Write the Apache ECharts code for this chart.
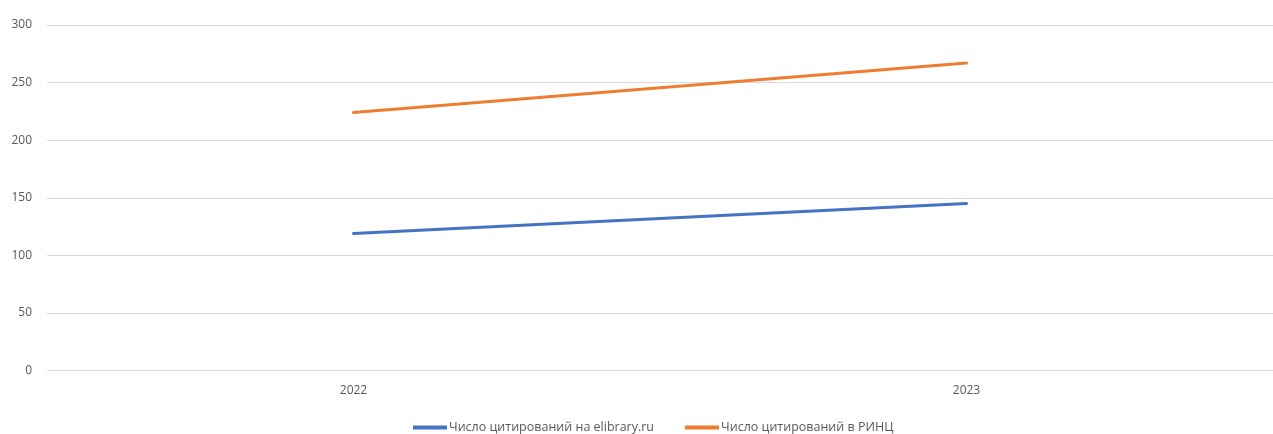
<!DOCTYPE html>
<html>
<head>
<meta charset="utf-8">
<script src="https://cdn.jsdelivr.net/npm/echarts@6/dist/echarts.min.js"></script>
<style>html,body{margin:0;padding:0;background:#fff;}#c{width:1273px;height:434px;}</style>
</head>
<body>
<div id="c"></div>
<script>
const categories = ['2022', '2023'];
const elibrary = [119, 145];
const rinc = [224, 267];
const seriesNames = ['Число цитирований на elibrary.ru', 'Число цитирований в РИНЦ'];
const yTicks = { min: 0, max: 300, interval: 50 };

const chart = echarts.init(document.getElementById('c'));
const font = '"Open Sans", "Noto Sans", sans-serif';
chart.setOption({
  animation: false,
  grid: { left: 47, top: 25, right: 0, bottom: 63.5, containLabel: false },
  xAxis: {
    type: 'category', data: categories, boundaryGap: true,
    axisLine: { show: true, lineStyle: { color: '#d9d9d9', width: 1 } },
    axisTick: { show: false },
    axisLabel: { color: '#595959', fontFamily: font, fontSize: 12, margin: 14 }
  },
  yAxis: {
    type: 'value', min: yTicks.min, max: yTicks.max, interval: yTicks.interval,
    axisLine: { show: false }, axisTick: { show: false },
    splitLine: { lineStyle: { color: '#d9d9d9', width: 1 } },
    axisLabel: { color: '#595959', fontFamily: font, fontSize: 12, margin: 15 }
  },
  legend: {
    bottom: 0, left: 413, padding: 0, itemWidth: 34, itemHeight: 4, itemGap: 31,
    icon: 'rect',
    textStyle: { color: '#595959', fontFamily: font, fontSize: 12.5, padding: [0, 0, 0, -3] },
    data: seriesNames
  },
  series: [
    { name: seriesNames[0], type: 'line', data: elibrary, symbol: 'none',
      lineStyle: { color: '#4472C4', width: 3, cap: 'round' }, itemStyle: { color: '#4472C4' } },
    { name: seriesNames[1], type: 'line', data: rinc, symbol: 'none',
      lineStyle: { color: '#ED7D31', width: 3, cap: 'round' }, itemStyle: { color: '#ED7D31' } }
  ]
});
</script>
</body>
</html>
